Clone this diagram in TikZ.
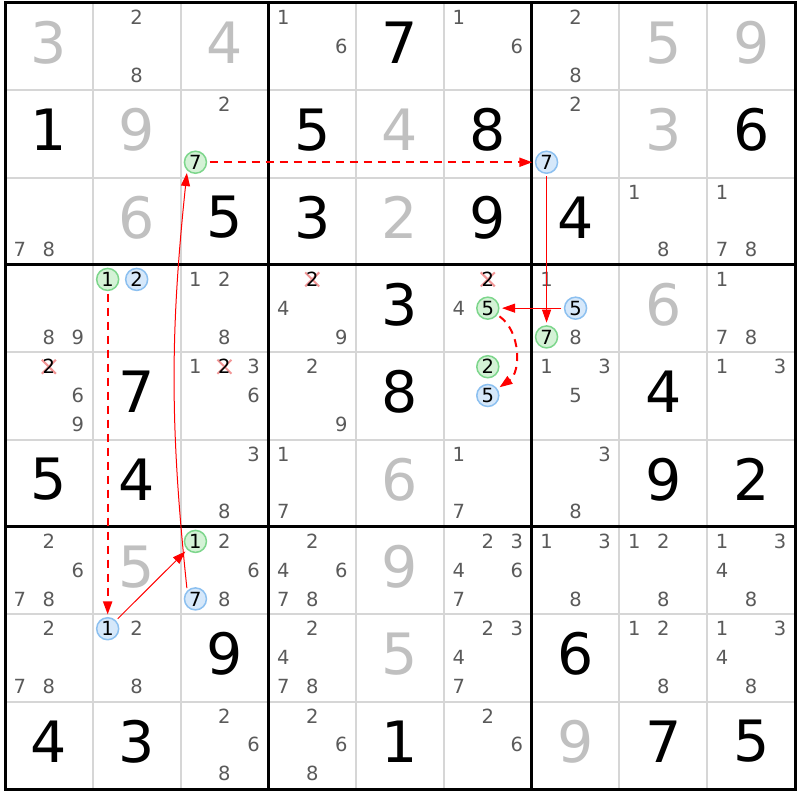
\documentclass[tikz,border=0pt]{standalone}
\usepackage{fontspec}
\setmainfont{DejaVu Sans}
\usetikzlibrary{arrows.meta}
\definecolor{givengrey}{RGB}{192,192,192}
\definecolor{candgrey}{RGB}{90,90,90}
\definecolor{thingrid}{RGB}{214,214,214}
\definecolor{gfill}{RGB}{212,242,214}
\definecolor{gline}{RGB}{125,214,140}
\definecolor{bfill}{RGB}{214,232,250}
\definecolor{bline}{RGB}{140,192,240}
\definecolor{xpink}{RGB}{242,150,150}
\definecolor{linkred}{RGB}{255,0,0}
\newcommand\candxy[3]{%
  \pgfmathsetmacro\px{5+(#2-0.5)*87.78+29*(mod(#3-1,3)-1)}%
  \pgfmathsetmacro\py{3+(#1-0.5)*87.33-0.5+28.75*(floor((#3-1)/3)-1)}%
}
\newcommand\bigxy[2]{%
  \pgfmathsetmacro\px{5+(#2-0.5)*87.78}%
  \pgfmathsetmacro\py{3+(#1-0.5)*87.33-4}%
}
\begin{document}
\begin{tikzpicture}[x=1pt,y=-1pt,
  bigdigit/.style={inner sep=0pt, font=\fontsize{57}{57}\selectfont},
  givendigit/.style={bigdigit, text=givengrey},
  solveddigit/.style={bigdigit, text=black},
  cand/.style={inner sep=0pt, font=\fontsize{19.5}{19.5}\selectfont, text=candgrey},
  crossdigit/.style={cand, text=black},
  gcirc/.style={circle, draw=gline, fill=gfill, line width=1.5pt, minimum size=22pt, inner sep=0pt, font=\fontsize{19.5}{19.5}\selectfont, text=black},
  bcirc/.style={gcirc, draw=bline, fill=bfill},
  crossline/.style={draw=xpink, line width=2pt},
  thinline/.style={draw=thingrid, line width=2pt},
  thickline/.style={draw=black, line width=3pt},
  linksolid/.style={draw=linkred, line width=1pt, -{Triangle[length=13pt,width=9pt]}, shorten >=2.5pt, shorten <=2.5pt},
  linkdash/.style={linksolid, line width=2pt, dash pattern=on 8pt off 6pt},
]
\useasboundingbox (0,0) rectangle (800,800);
\fill[white] (0,0) rectangle (800,800);
% thin grid
\foreach \i in {1,2,4,5,7,8}{
  \draw[thinline] ({5+\i*87.78},3) -- ({5+\i*87.78},789);
  \draw[thinline] (5,{3+\i*87.33}) -- (795,{3+\i*87.33});
}
% thick grid
\foreach \i in {3,6}{
  \draw[thickline] ({5+\i*87.78},3) -- ({5+\i*87.78},789);
  \draw[thickline] (5,{3+\i*87.33}) -- (795,{3+\i*87.33});
}
\draw[thickline] (5,3) rectangle (795,789);
% given digits
\foreach \r/\c/\d in {1/1/3,1/3/4,1/8/5,1/9/9,2/2/9,2/5/4,2/8/3,3/2/6,3/5/2,4/8/6,6/5/6,7/2/5,7/5/9,8/5/5,9/7/9}{
  \bigxy{\r}{\c}
  \node[givendigit] (v-\r-\c) at (\px,\py) {\d};
}
% solved digits
\foreach \r/\c/\d in {1/5/7,2/1/1,2/4/5,2/6/8,2/9/6,3/3/5,3/4/3,3/6/9,3/7/4,4/5/3,5/2/7,5/5/8,5/8/4,6/1/5,6/2/4,6/8/9,6/9/2,8/3/9,8/7/6,9/1/4,9/2/3,9/5/1,9/8/7,9/9/5}{
  \bigxy{\r}{\c}
  \node[solveddigit] (s-\r-\c) at (\px,\py) {\d};
}
% candidates
\foreach \r/\c/\d in {1/2/2,1/2/8,1/4/1,1/4/6,1/6/1,1/6/6,1/7/2,1/7/8,
  2/3/2,2/7/2,
  3/1/7,3/1/8,3/8/1,3/8/8,3/9/1,3/9/7,3/9/8,
  4/1/8,4/1/9,4/3/1,4/3/2,4/3/8,4/4/4,4/4/9,4/6/4,4/7/1,4/7/8,4/9/1,4/9/7,4/9/8,
  5/1/6,5/1/9,5/3/1,5/3/3,5/3/6,5/4/2,5/4/9,5/7/1,5/7/3,5/7/5,5/9/1,5/9/3,
  6/3/3,6/3/8,6/4/1,6/4/7,6/6/1,6/6/7,6/7/3,6/7/8,
  7/1/2,7/1/6,7/1/7,7/1/8,7/3/2,7/3/6,7/3/8,7/4/2,7/4/4,7/4/6,7/4/7,7/4/8,
  7/6/2,7/6/3,7/6/4,7/6/6,7/6/7,7/7/1,7/7/3,7/7/8,7/8/1,7/8/2,7/8/8,7/9/1,7/9/3,7/9/4,7/9/8,
  8/1/2,8/1/7,8/1/8,8/2/2,8/2/8,8/4/2,8/4/4,8/4/7,8/4/8,8/6/2,8/6/3,8/6/4,8/6/7,
  8/8/1,8/8/2,8/8/8,8/9/1,8/9/3,8/9/4,8/9/8,
  9/3/2,9/3/6,9/3/8,9/4/2,9/4/6,9/4/8,9/6/2,9/6/6}{
  \candxy{\r}{\c}{\d}
  \node[cand] (c-\r-\c-\d) at (\px,\py) {\d};
}
% crossed-out candidates
\foreach \r/\c/\d in {4/4/2,4/6/2,5/1/2,5/3/2}{
  \candxy{\r}{\c}{\d}
  \draw[crossline] (\px-7,\py-7) -- (\px+7,\py+7);
  \draw[crossline] (\px-7,\py+7) -- (\px+7,\py-7);
  \node[crossdigit] (x-\r-\c-\d) at (\px,\py) {\d};
}
% green circled candidates
\foreach \r/\c/\d in {2/3/7,4/2/1,4/6/5,4/7/7,5/6/2,7/3/1}{
  \candxy{\r}{\c}{\d}
  \node[gcirc] (g-\r-\c-\d) at (\px,\py) {\d};
}
% blue circled candidates
\foreach \r/\c/\d in {2/7/7,4/2/2,4/7/5,5/6/5,7/3/7,8/2/1}{
  \candxy{\r}{\c}{\d}
  \node[bcirc] (b-\r-\c-\d) at (\px,\py) {\d};
}
% links
\draw[linkdash] (g-2-3-7) -- (b-2-7-7);
\draw[linksolid] (b-2-7-7) -- (g-4-7-7);
\draw[linksolid] (b-4-7-5) -- (g-4-6-5);
\draw[linkdash] (g-4-6-5) to[bend left=55] (b-5-6-5);
\draw[linkdash] (g-4-2-1) -- (b-8-2-1);
\draw[linksolid] (b-8-2-1) -- (g-7-3-1);
\draw[linksolid] (b-7-3-7.135) to[bend left=6] (g-2-3-7.225);
\end{tikzpicture}
\end{document}
